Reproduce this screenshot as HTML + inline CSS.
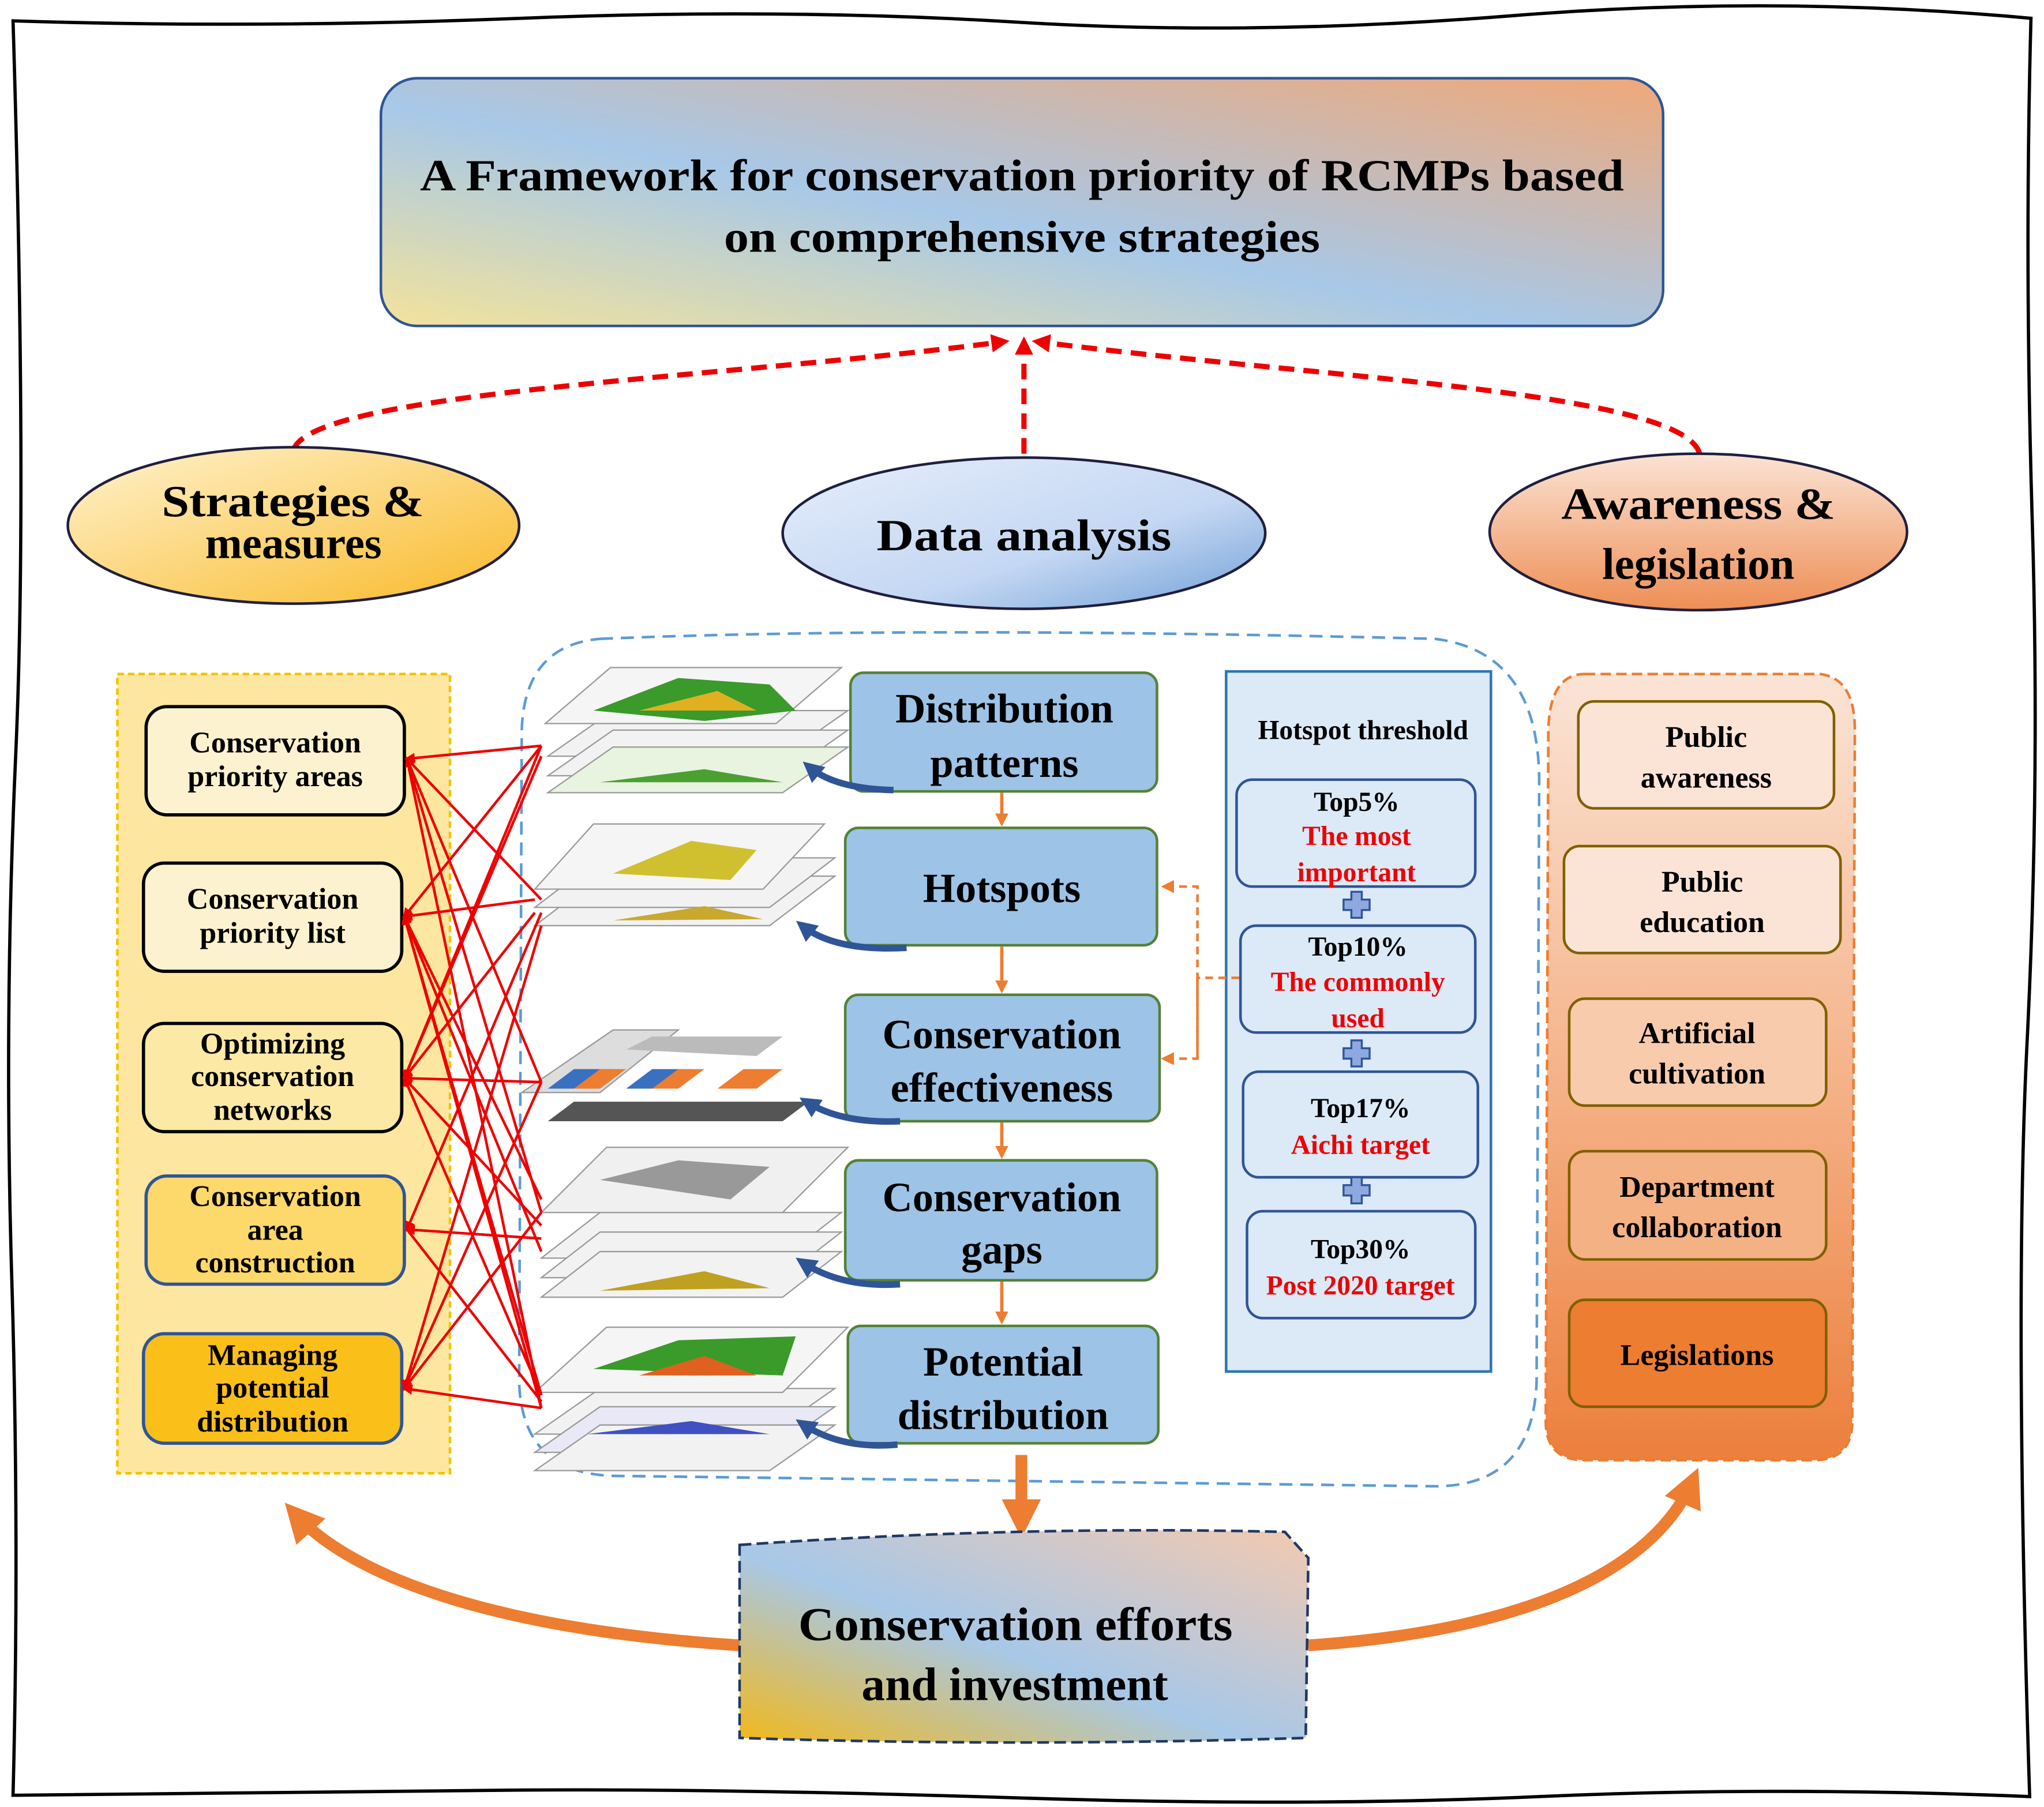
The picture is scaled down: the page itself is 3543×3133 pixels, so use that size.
<!DOCTYPE html>
<html><head><meta charset="utf-8">
<style>
html,body{margin:0;padding:0;background:#fff;}
svg{display:block;}
text{font-family:"Liberation Serif",serif;font-weight:bold;}
</style></head>
<body>
<svg width="3543" height="3133" viewBox="0 0 1567 1386" preserveAspectRatio="none" xmlns="http://www.w3.org/2000/svg">
<defs>
<linearGradient id="gT" x1="0" y1="1" x2="1" y2="0">
<stop offset="0" stop-color="#f3e39b"/><stop offset="0.45" stop-color="#a7c8e8"/><stop offset="1" stop-color="#f0a878"/>
</linearGradient>
<linearGradient id="gS" x1="0" y1="0" x2="1" y2="1">
<stop offset="0" stop-color="#fff3d0"/><stop offset="1" stop-color="#f9b928"/>
</linearGradient>
<linearGradient id="gD" x1="0" y1="0" x2="1" y2="1">
<stop offset="0" stop-color="#e6eefb"/><stop offset="0.6" stop-color="#c4d7f3"/><stop offset="1" stop-color="#6f9fd6"/>
</linearGradient>
<linearGradient id="gA" x1="0" y1="0" x2="0" y2="1">
<stop offset="0" stop-color="#fbe3d4"/><stop offset="1" stop-color="#ee8e55"/>
</linearGradient>
<linearGradient id="gR" x1="0" y1="0" x2="0" y2="1">
<stop offset="0" stop-color="#fbe4d6"/><stop offset="0.5" stop-color="#f5b48b"/><stop offset="1" stop-color="#ec7f3c"/>
</linearGradient>
<linearGradient id="gB" x1="0" y1="1" x2="1" y2="0">
<stop offset="0" stop-color="#f2b81a"/><stop offset="0.45" stop-color="#a7c8e8"/><stop offset="1" stop-color="#f3c9b0"/>
</linearGradient>
<marker id="mr" markerWidth="8" markerHeight="8" refX="6" refY="4" orient="auto" markerUnits="userSpaceOnUse">
<path d="M0,0 L8,4 L0,8 z" fill="#e00"/></marker>
<marker id="mr2" markerWidth="14" markerHeight="14" refX="10" refY="7" orient="auto" markerUnits="userSpaceOnUse">
<path d="M0,0 L14,7 L0,14 z" fill="#e00"/></marker>
<marker id="mo" markerWidth="30" markerHeight="30" refX="20" refY="15" orient="auto" markerUnits="userSpaceOnUse">
<path d="M0,0 L30,15 L0,30 z" fill="#ed7d31"/></marker>
<marker id="mo2" markerWidth="10" markerHeight="10" refX="8" refY="5" orient="auto" markerUnits="userSpaceOnUse">
<path d="M0,0 L10,5 L0,10 z" fill="#ed7d31"/></marker>
<marker id="mb" markerWidth="16" markerHeight="16" refX="10" refY="8" orient="auto" markerUnits="userSpaceOnUse">
<path d="M0,0 L16,8 L0,16 z" fill="#2f5597"/></marker>
</defs>

<path d="M10,16 Q200,22 400,14 T780,17 T1160,12 T1557,14 Q1552,200 1558,400 T1554,800 T1556,1378 Q1360,1370 1180,1378 T780,1379 T400,1373 T10,1377 Q15,1180 9,980 T12,580 T10,16 z" fill="none" stroke="#000" stroke-width="2.5"/>

<rect x="292" y="60" width="983" height="190" rx="28" fill="url(#gT)" stroke="#2f5597" stroke-width="2"/>
<text x="322" y="146" font-size="34" textLength="923" lengthAdjust="spacingAndGlyphs">A Framework for conservation priority of RCMPs based</text>
<text x="555" y="193" font-size="34" textLength="457" lengthAdjust="spacingAndGlyphs">on comprehensive strategies</text>

<g fill="none" stroke="#e00" stroke-width="4" stroke-dasharray="12,7">
<path d="M225,345 C240,300 560,290 770,262" marker-end="url(#mr2)"/>
<path d="M785,348 L785,262" marker-end="url(#mr2)"/>
<path d="M1303,348 C1290,300 1010,290 795,262" marker-end="url(#mr2)"/>
</g>

<ellipse cx="225" cy="403" rx="173" ry="60" fill="url(#gS)" stroke="#1f1f3f" stroke-width="2"/>
<text x="124" y="396" font-size="34" textLength="201" lengthAdjust="spacingAndGlyphs">Strategies &amp;</text>
<text x="225" y="428" font-size="34" text-anchor="middle">measures</text>
<ellipse cx="785" cy="409" rx="185" ry="58" fill="url(#gD)" stroke="#1f1f3f" stroke-width="2"/>
<text x="672" y="422" font-size="34" textLength="226" lengthAdjust="spacingAndGlyphs">Data  analysis</text>
<ellipse cx="1302" cy="408" rx="160" ry="60" fill="url(#gA)" stroke="#1f1f3f" stroke-width="2"/>
<text x="1197" y="398" font-size="34" textLength="210" lengthAdjust="spacingAndGlyphs">Awareness &amp;</text>
<text x="1302" y="444" font-size="34" text-anchor="middle">legislation</text>

<rect x="90" y="517" width="255" height="613" fill="#fde7a0" stroke="#f2c400" stroke-width="2" stroke-dasharray="5,3"/>
<g stroke-width="2.5">
<rect x="112" y="542" width="198" height="83" rx="16" fill="#fdf2cf" stroke="#000"/>
<rect x="110" y="662" width="198" height="83" rx="16" fill="#fdf2cf" stroke="#000"/>
<rect x="110" y="785" width="198" height="83" rx="16" fill="#fde9a6" stroke="#000"/>
<rect x="112" y="902" width="198" height="83" rx="16" fill="#fdd86a" stroke="#2f5597"/>
<rect x="110" y="1023" width="198" height="84" rx="16" fill="#fbbf1a" stroke="#2f5597"/>
</g>
<g font-size="23" text-anchor="middle">
<text x="211" y="577">Conservation</text><text x="211" y="603">priority areas</text>
<text x="209" y="697">Conservation</text><text x="209" y="723">priority list</text>
<text x="209" y="808">Optimizing</text><text x="209" y="833">conservation</text><text x="209" y="859">networks</text>
<text x="211" y="925">Conservation</text><text x="211" y="951">area</text><text x="211" y="976">construction</text>
<text x="209" y="1047">Managing</text><text x="209" y="1072">potential</text><text x="209" y="1098">distribution</text>
</g>

<path d="M460,490 Q700,480 1100,490 Q1180,500 1180,600 L1178,1060 Q1175,1140 1100,1140 L470,1132 Q400,1130 398,1060 L400,560 Q402,495 460,490 z" fill="none" stroke="#5b9bd5" stroke-width="2" stroke-dasharray="10,6"/>

<g stroke="#999" stroke-width="1">
<g>
<path d="M420,580 L600,580 L650,545 L470,545 z" fill="#f2f2f2"/>
<path d="M420,595 L600,595 L650,560 L470,560 z" fill="#f2f2f2"/>
<path d="M420,608 L600,608 L650,573 L470,573 z" fill="#e8f3e0"/>
<path d="M418,555 L595,555 L645,512 L468,512 z" fill="#f5f5f5"/>
<path d="M455,545 L520,520 L590,525 L610,545 L540,553 z" fill="#3a9a2a" stroke="none"/>
<path d="M490,545 L550,530 L580,545 z" fill="#e0b020" stroke="none"/>
<path d="M460,600 L540,590 L600,600 z" fill="#4aa030" stroke="none"/>
</g>
<g>
<path d="M410,710 L590,710 L640,672 L460,672 z" fill="#f2f2f2"/>
<path d="M410,696 L590,696 L640,658 L460,658 z" fill="#f2f2f2"/>
<path d="M410,682 L585,682 L632,632 L455,632 z" fill="#f5f5f5"/>
<path d="M470,670 L530,645 L580,652 L560,675 z" fill="#d0c030" stroke="none"/>
<path d="M470,706 L540,695 L585,705 z" fill="#c8a830" stroke="none"/>
</g>
<g>
<path d="M400,838 L470,790 L520,790 L460,838 z" fill="#ddd"/>
<path d="M420,835 L440,820 L470,820 L450,835 z" fill="#3a70c0" stroke="none"/>
<path d="M480,835 L500,820 L530,820 L510,835 z" fill="#3a70c0" stroke="none"/>
<path d="M440,835 L460,820 L480,820 L460,835 z" fill="#ed7d31" stroke="none"/>
<path d="M500,835 L520,820 L540,820 L520,835 z" fill="#ed7d31" stroke="none"/>
<path d="M550,835 L570,820 L600,820 L580,835 z" fill="#ed7d31" stroke="none"/>
<path d="M480,805 L500,795 L600,795 L580,810 z" fill="#bbb" stroke="none"/>
<path d="M420,860 L440,845 L620,845 L600,860 z" fill="#555" stroke="none"/>
</g>
<g>
<path d="M415,965 L600,965 L645,930 L460,930 z" fill="#f2f2f2"/>
<path d="M415,980 L600,980 L645,945 L460,945 z" fill="#f2f2f2"/>
<path d="M415,995 L600,995 L645,960 L460,960 z" fill="#f2f2f2"/>
<path d="M415,930 L600,930 L650,880 L465,880 z" fill="#f0f0f0"/>
<path d="M460,905 L520,890 L590,895 L560,920 z" fill="#999" stroke="none"/>
<path d="M460,990 L540,975 L590,988 z" fill="#c0a020" stroke="none"/>
</g>
<g>
<path d="M410,1100 L590,1100 L640,1065 L460,1065 z" fill="#f2f2f2"/>
<path d="M410,1114 L590,1114 L640,1079 L460,1079 z" fill="#e8e8f6"/>
<path d="M410,1128 L590,1128 L640,1093 L460,1093 z" fill="#f2f2f2"/>
<path d="M410,1068 L600,1068 L650,1018 L465,1018 z" fill="#f5f5f5"/>
<path d="M455,1050 L520,1028 L610,1025 L600,1055 z" fill="#3a9a2a" stroke="none"/>
<path d="M490,1055 L540,1040 L580,1055 z" fill="#e06020" stroke="none"/>
<path d="M450,1100 L530,1090 L590,1100 z" fill="#4050c0" stroke="none"/>
</g>
</g>

<g stroke="#e00" stroke-width="2" fill="none" marker-end="url(#mr)">
<path d="M415,572 L312,582"/>
<path d="M415,690 L312,582"/>
<path d="M415,830 L312,582"/>
<path d="M410,690 L310,703"/>
<path d="M415,572 L310,703"/>
<path d="M415,920 L310,703"/>
<path d="M415,1080 L310,703"/>
<path d="M415,572 L310,827"/>
<path d="M410,700 L310,827"/>
<path d="M415,830 L310,827"/>
<path d="M415,940 L310,827"/>
<path d="M415,1070 L310,827"/>
<path d="M415,950 L312,943"/>
<path d="M415,700 L312,943"/>
<path d="M415,830 L310,1065"/>
<path d="M415,710 L310,1065"/>
<path d="M415,1080 L310,1065"/>
<path d="M415,930 L310,1065"/>
</g>
<g stroke="#e00" stroke-width="2" fill="none">
<path d="M312,582 L415,930"/>
<path d="M312,582 L415,1080"/>
<path d="M310,703 L415,960"/>
<path d="M310,703 L415,1070"/>
<path d="M312,943 L415,1075"/>
<path d="M310,827 L415,580"/>
</g>

<g fill="#9dc3e6" stroke="#548235" stroke-width="2">
<rect x="652" y="516" width="235" height="91" rx="10"/>
<rect x="648" y="635" width="239" height="90" rx="10"/>
<rect x="648" y="763" width="241" height="97" rx="10"/>
<rect x="648" y="890" width="239" height="92" rx="10"/>
<rect x="650" y="1017" width="238" height="90" rx="10"/>
</g>
<g font-size="32" text-anchor="middle">
<text x="770" y="554">Distribution</text><text x="770" y="596">patterns</text>
<text x="768" y="692">Hotspots</text>
<text x="768" y="804">Conservation</text><text x="768" y="845">effectiveness</text>
<text x="768" y="929">Conservation</text><text x="768" y="969">gaps</text>
<text x="769" y="1055">Potential</text><text x="769" y="1096">distribution</text>
</g>
<g stroke="#ed7d31" stroke-width="2.5" fill="none" marker-end="url(#mo2)">
<path d="M768,608 L768,632"/><path d="M768,726 L768,760"/><path d="M768,861 L768,887"/><path d="M768,983 L768,1014"/>
</g>
<g stroke="#2f5597" stroke-width="5" fill="none" marker-end="url(#mb)">
<path d="M685,606 Q640,605 620,588"/>
<path d="M695,727 Q640,730 615,710"/>
<path d="M690,860 Q645,862 618,845"/>
<path d="M690,985 Q645,988 615,968"/>
<path d="M688,1108 Q645,1112 615,1092"/>
</g>

<rect x="940" y="515" width="203" height="537" fill="#dce9f7" stroke="#2e75b6" stroke-width="2"/>
<text x="1045" y="567" font-size="21" text-anchor="middle">Hotspot threshold</text>
<g fill="#dce9f7" stroke="#2f5597" stroke-width="2">
<rect x="948" y="598" width="183" height="82" rx="12"/>
<rect x="951" y="710" width="180" height="82" rx="12"/>
<rect x="953" y="822" width="180" height="81" rx="12"/>
<rect x="956" y="929" width="175" height="82" rx="12"/>
</g>
<g font-size="21" text-anchor="middle">
<text x="1040" y="622">Top5%</text><text x="1040" y="648" fill="#e00">The most</text><text x="1040" y="676" fill="#e00">important</text>
<text x="1041" y="733">Top10%</text><text x="1041" y="760" fill="#e00">The commonly</text><text x="1041" y="788" fill="#e00">used</text>
<text x="1043" y="857">Top17%</text><text x="1043" y="885" fill="#e00">Aichi target</text>
<text x="1043" y="965">Top30%</text><text x="1043" y="993" fill="#e00">Post 2020 target</text>
</g>
<g fill="#8fa8e0" stroke="#2f5597" stroke-width="1.5">
<path d="M1036,684 h8 v6 h6 v8 h-6 v6 h-8 v-6 h-6 v-8 h6 z"/>
<path d="M1036,798 h8 v6 h6 v8 h-6 v6 h-8 v-6 h-6 v-8 h6 z"/>
<path d="M1036,903 h8 v6 h6 v8 h-6 v6 h-8 v-6 h-6 v-8 h6 z"/>
</g>
<g stroke="#ed7d31" stroke-width="2" fill="none" stroke-dasharray="6,4">
<path d="M950,750 L918,750"/>
<path d="M918,812 L918,680 L892,680" marker-end="url(#mo2)"/>
<path d="M918,750 L918,812 L892,812" marker-end="url(#mo2)"/>
</g>

<path d="M1215,517 L1395,517 Q1422,520 1422,560 L1420,1090 Q1420,1120 1390,1120 L1215,1120 Q1185,1120 1185,1090 L1187,560 Q1188,517 1215,517 z" fill="url(#gR)" stroke="#ed7d31" stroke-width="2" stroke-dasharray="8,4"/>
<g stroke="#7f6000" stroke-width="2">
<rect x="1210" y="538" width="196" height="82" rx="12" fill="#fbe4d6"/>
<rect x="1199" y="649" width="212" height="82" rx="12" fill="#fbe4d6"/>
<rect x="1203" y="766" width="197" height="82" rx="12" fill="#f8cbad"/>
<rect x="1203" y="883" width="197" height="83" rx="12" fill="#f4b183"/>
<rect x="1203" y="997" width="197" height="82" rx="12" fill="#ed7d31"/>
</g>
<g font-size="23" text-anchor="middle">
<text x="1308" y="573">Public</text><text x="1308" y="604">awareness</text>
<text x="1305" y="684">Public</text><text x="1305" y="715">education</text>
<text x="1301" y="800">Artificial</text><text x="1301" y="831">cultivation</text>
<text x="1301" y="918">Department</text><text x="1301" y="949">collaboration</text>
<text x="1301" y="1047">Legislations</text>
</g>

<path d="M783,1116 L783,1170" stroke="#ed7d31" stroke-width="9" fill="none" marker-end="url(#mo)"/>
<path d="M567,1262 C380,1250 270,1210 225,1160" stroke="#ed7d31" stroke-width="9" fill="none" marker-end="url(#mo)"/>
<path d="M1003,1262 C1180,1250 1270,1200 1298,1135" stroke="#ed7d31" stroke-width="9" fill="none" marker-end="url(#mo)"/>
<path d="M567,1185 Q780,1170 985,1175 L1003,1195 L1001,1333 Q780,1340 567,1333 z" fill="url(#gB)" stroke="#203864" stroke-width="2" stroke-dasharray="9,4"/>
<text x="612" y="1258" font-size="36" textLength="333" lengthAdjust="spacingAndGlyphs">Conservation efforts</text>
<text x="778" y="1304" font-size="36" text-anchor="middle">and  investment</text>
</svg>
</body></html>
